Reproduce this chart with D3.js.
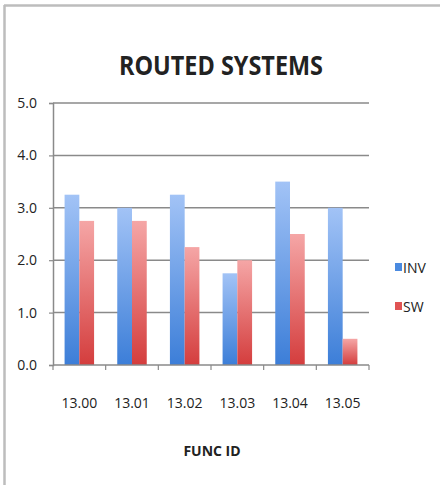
<!DOCTYPE html>
<html>
<head>
<meta charset="utf-8">
<script src="https://cdn.jsdelivr.net/npm/d3@7"></script>
<style>
  body { margin: 0; background: #fff; }
  svg text { font-family: "Liberation Sans Narrow", "Open Sans", "Liberation Sans", sans-serif; fill: #222; }
</style>
</head>
<body>
<script>
// chart data
var categories = ["13.00", "13.01", "13.02", "13.03", "13.04", "13.05"];
var seriesNames = ["INV", "SW"];
var invValues = [3.25, 3.0, 3.25, 1.75, 3.5, 3.0];
var swValues = [2.75, 2.75, 2.25, 2.0, 2.5, 0.5];
var yTicks = [0, 1, 2, 3, 4, 5];

var width = 440, height = 485;
var plot = {left: 53, right: 369, top: 103, bottom: 365};

var svg = d3.select("body").append("svg")
    .attr("width", width)
    .attr("height", height);

// gradients like the office chart
var defs = svg.append("defs");
function grad(id, top, bottom) {
  var g = defs.append("linearGradient").attr("id", id)
      .attr("x1", 0).attr("y1", 0).attr("x2", 0).attr("y2", 1);
  g.append("stop").attr("offset", "0%").attr("stop-color", top);
  g.append("stop").attr("offset", "100%").attr("stop-color", bottom);
}
grad("gInv", "#a2c3f6", "#3c7ed8");
grad("gSw", "#f5a6a6", "#d43d3d");
var fills = {INV: "url(#gInv)", SW: "url(#gSw)"};
var legendFills = {INV: "#4a8ae0", SW: "#e05454"};

// frame (left and top border)
svg.append("line").attr("x1", 4.5).attr("x2", 4.5).attr("y1", 5).attr("y2", height)
    .attr("stroke", "#bdbdbd").attr("stroke-width", 2.5);
svg.append("line").attr("x1", 4).attr("x2", width).attr("y1", 5.5).attr("y2", 5.5)
    .attr("stroke", "#bdbdbd").attr("stroke-width", 2.5);

var y = d3.scaleLinear().domain([0, 5]).range([plot.bottom, plot.top]);
var x = d3.scaleBand().domain(categories)
    .range([plot.left, plot.right])
    .paddingInner(0.44).paddingOuter(0.22);
var xs = d3.scaleBand().domain(seriesNames).range([0, x.bandwidth()]);

// gridlines
svg.append("g").selectAll("line").data(yTicks.filter(function(d) { return d > 0; }))
  .enter().append("line")
    .attr("x1", plot.left).attr("x2", plot.right)
    .attr("y1", function(d) { return y(d); }).attr("y2", function(d) { return y(d); })
    .attr("stroke", "#8a8a8a").attr("stroke-width", 1.5);

// y axis
var yAxis = svg.append("g").attr("transform", "translate(" + plot.left + ",0)")
    .call(d3.axisLeft(y).tickValues(yTicks).tickFormat(d3.format(".1f")).tickSize(4).tickPadding(12));
yAxis.select(".domain").attr("stroke", "#8a8a8a").attr("stroke-width", 1.5);
yAxis.selectAll(".tick line").attr("stroke", "#8a8a8a").attr("stroke-width", 1.2);
yAxis.selectAll("text").style("font-size", "14px").attr("fill", "#222");

// bars
var rows = categories.map(function(c, i) { return {cat: c, INV: invValues[i], SW: swValues[i]}; });
var groups = svg.append("g").selectAll("g").data(rows).enter().append("g")
    .attr("transform", function(d) { return "translate(" + x(d.cat) + ",0)"; });
groups.selectAll("rect")
  .data(function(d) { return seriesNames.map(function(s) { return {s: s, v: d[s]}; }); })
  .enter().append("rect")
    .attr("x", function(d) { return xs(d.s); })
    .attr("width", xs.bandwidth())
    .attr("y", function(d) { return y(d.v); })
    .attr("height", function(d) { return y(0) - y(d.v); })
    .attr("fill", function(d) { return fills[d.s]; });

// x axis line and boundary ticks
svg.append("line").attr("x1", plot.left).attr("x2", plot.right)
    .attr("y1", plot.bottom).attr("y2", plot.bottom)
    .attr("stroke", "#8a8a8a").attr("stroke-width", 1.5);
var step = x.step();
svg.append("g").selectAll("line").data(d3.range(categories.length + 1))
  .enter().append("line")
    .attr("x1", function(i) { return plot.left + i * step; })
    .attr("x2", function(i) { return plot.left + i * step; })
    .attr("y1", plot.bottom).attr("y2", plot.bottom + 5)
    .attr("stroke", "#8a8a8a").attr("stroke-width", 1.2);

// category labels
svg.append("g").selectAll("text").data(categories).enter().append("text")
    .attr("x", function(d) { return x(d) + x.bandwidth() / 2; })
    .attr("y", 408)
    .attr("text-anchor", "middle")
    .style("font-size", "14px")
    .text(function(d) { return d; });

// titles
svg.append("text").attr("x", 221).attr("y", 75)
    .attr("text-anchor", "middle")
    .style("font-size", "27px").style("font-weight", "bold")
    .attr("textLength", 204).attr("lengthAdjust", "spacingAndGlyphs")
    .text("ROUTED SYSTEMS");
svg.append("text").attr("x", 212).attr("y", 456)
    .attr("text-anchor", "middle")
    .style("font-size", "14px").style("font-weight", "bold")
    .text("FUNC ID");

// legend
var legend = svg.append("g").selectAll("g").data(seriesNames).enter().append("g")
    .attr("transform", function(d, i) { return "translate(395," + (263 + i * 39) + ")"; });
legend.append("rect").attr("x", 0).attr("y", 0).attr("width", 7).attr("height", 8)
    .attr("fill", function(d) { return legendFills[d]; });
legend.append("text").attr("x", 8).attr("y", 10)
    .style("font-size", "14px")
    .text(function(d) { return d; });
</script>
</body>
</html>
